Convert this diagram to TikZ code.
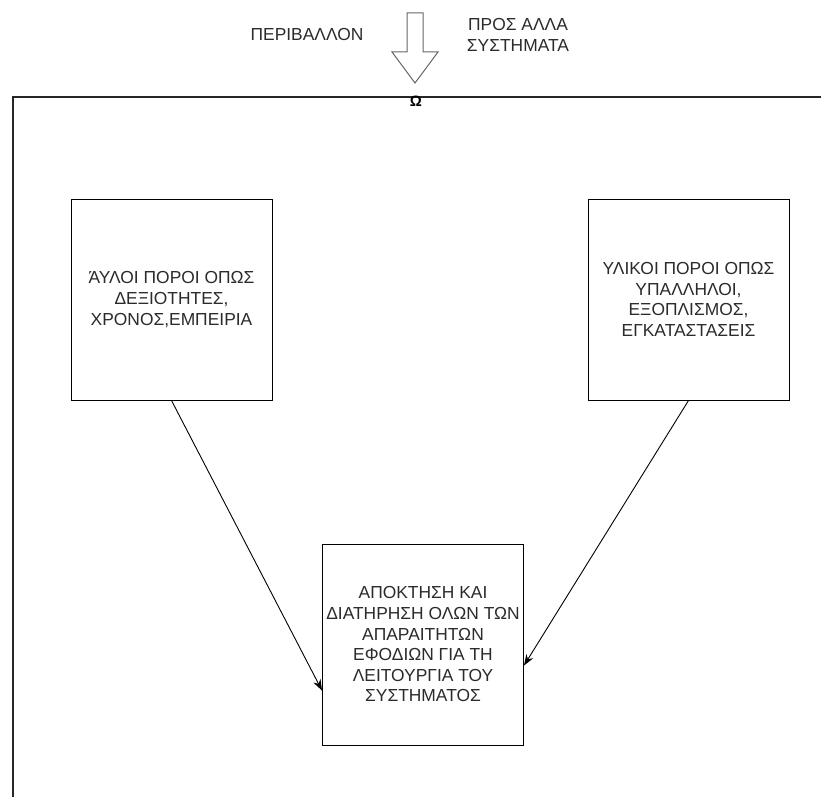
\documentclass[tikz,border=0pt]{standalone}
\usepackage{fontspec}
\setmainfont{Liberation Sans}
\usetikzlibrary{arrows.meta}
\definecolor{ink}{HTML}{2B2B2B}
\tikzset{
  every node/.style={font=\fontsize{17.4}{20.6}\selectfont, text=ink},
  resbox/.style={draw=black, line width=1pt, minimum width=201pt,
    minimum height=201pt, inner sep=0pt, align=center, fill=white},
  flow/.style={draw=black, line width=0.9pt,
    -{Stealth[length=11pt,width=8pt]}},
  frameline/.style={draw=black!85, line width=1.1pt},
  blockarrow/.style={draw=black!60, line width=1pt, fill=white, line join=miter},
  label/.style={align=center, inner sep=0pt}
}
\begin{document}
\begin{tikzpicture}[x=1pt, y=-1pt]
  \useasboundingbox (0,0) rectangle (821,797);

  % system boundary (top and left sides of the frame)
  \coordinate (fTL) at (13,97);
  \coordinate (fTR) at (821,97);
  \coordinate (fBL) at (13,797);
  \draw[frameline] (fTR) -- (fTL) -- (fBL);

  % inflow from the environment
  \draw[blockarrow] (407,13) -- (423,13) -- (423,52) -- (438,52) -- (415,83)
    -- (392,52) -- (407,52) -- cycle;

  \node[label] (env) at (307,35) {ΠΕΡΙΒΑΛΛΟΝ};
  \node[label] (other) at (518,35) {ΠΡΟΣ ΑΛΛΑ\\ΣΥΣΤΗΜΑΤΑ};
  \node[label, font=\fontsize{15}{17}\selectfont\bfseries, text=black] (omega) at (416,101) {Ω};

  % resources and the goal they feed
  \node[resbox] (intang) at (171.5,299.5)
    {ΆΥΛΟΙ ΠΟΡΟΙ ΟΠΩΣ\\ΔΕΞΙΟΤΗΤΕΣ,\\ΧΡΟΝΟΣ,ΕΜΠΕΙΡΙΑ};
  \node[resbox] (tang) at (688.5,299.5)
    {ΥΛΙΚΟΙ ΠΟΡΟΙ ΟΠΩΣ\\ΥΠΑΛΛΗΛΟΙ,\\ΕΞΟΠΛΙΣΜΟΣ,\\ΕΓΚΑΤΑΣΤΑΣΕΙΣ};
  \node[resbox] (goal) at (423,644.5)
    {ΑΠΟΚΤΗΣΗ ΚΑΙ\\ΔΙΑΤΗΡΗΣΗ ΟΛΩΝ ΤΩΝ\\ΑΠΑΡΑΙΤΗΤΩΝ\\ΕΦΟΔΙΩΝ ΓΙΑ ΤΗ\\ΛΕΙΤΟΥΡΓΙΑ ΤΟΥ\\ΣΥΣΤΗΜΑΤΟΣ};

  \draw[flow] (intang.south) -- ([yshift=55pt]goal.south west);
  \draw[flow] (tang.south) -- ([yshift=80pt]goal.south east);
\end{tikzpicture}
\end{document}
